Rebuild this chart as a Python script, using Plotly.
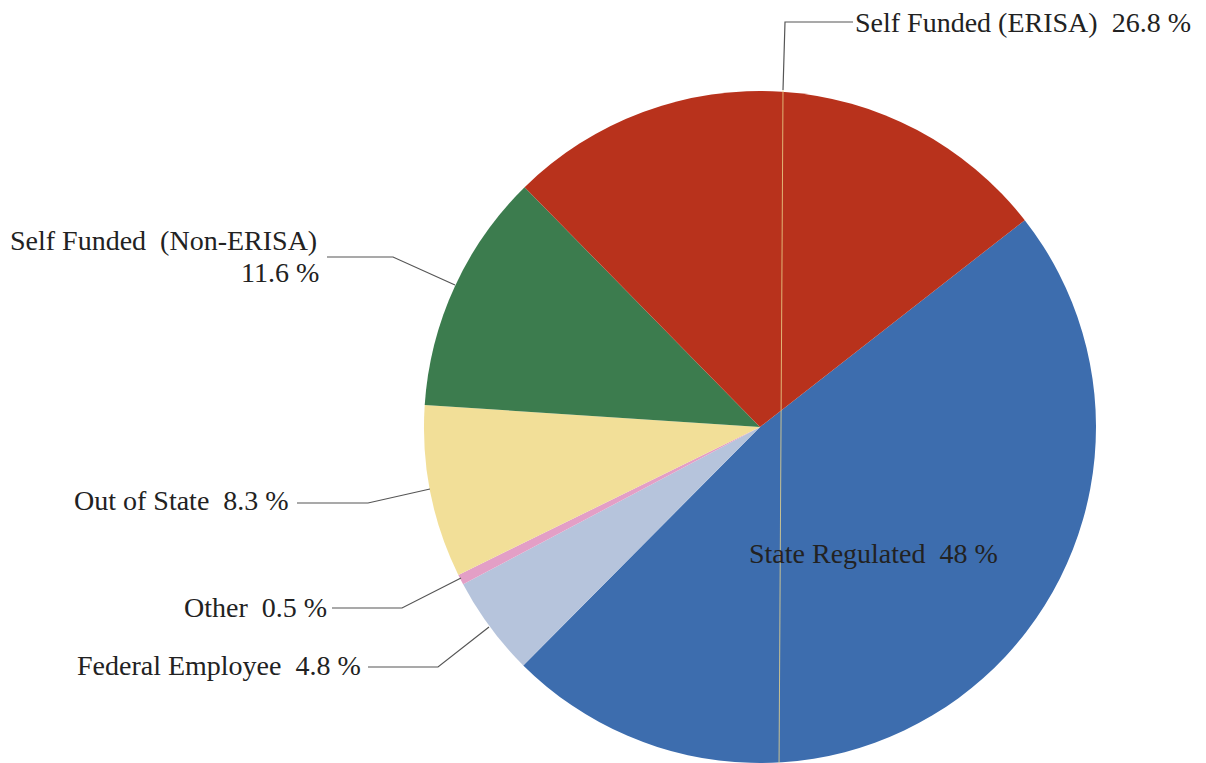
import plotly.graph_objects as go

# Data
categories = ["State Regulated", "Federal Employee", "Other", "Out of State",
              "Self Funded (Non-ERISA)", "Self Funded (ERISA)"]
shares = [48.0, 4.8, 0.5, 8.3, 11.6, 26.8]
colors = ["#3D6DAE", "#B6C4DC", "#E39FC6", "#F2DF98", "#3C7C4E", "#B8321C"]

W, H = 1206, 763
OFF = 8  # page body margin
CX, CY, R = 760, 427, 336


def px(x):
    return (x - OFF) / W


def py(y):
    return 1 - (y - OFF) / H


fig = go.Figure()
fig.add_trace(go.Pie(
    labels=categories,
    values=shares,
    sort=False,
    direction="clockwise",
    rotation=52,
    marker=dict(colors=colors, line=dict(width=0)),
    textinfo="none",
    hoverinfo="label+percent",
    showlegend=False,
    domain=dict(x=[px(CX - R), px(CX + R)], y=[max(0, py(CY + R)), py(CY - R)]),
))

FONT = dict(family="Liberation Serif, Times New Roman, serif", size=28, color="#222222")
NB = "\u00a0"

annotations = [
    dict(text=f"Self Funded (ERISA){NB}{NB}26.8 %", x=853, y=22, xanchor="left"),
    dict(text=f"Self Funded{NB}{NB}(Non-ERISA)", x=8, y=240, xanchor="left"),
    dict(text="11.6 %", x=321, y=272, xanchor="right"),
    dict(text=f"Out of State{NB}{NB}8.3 %", x=291, y=500, xanchor="right"),
    dict(text=f"Other{NB}{NB}0.5 %", x=329, y=607, xanchor="right"),
    dict(text=f"Federal Employee{NB}{NB}4.8 %", x=363, y=665, xanchor="right"),
    dict(text=f"State Regulated{NB}{NB}48 %", x=747, y=553, xanchor="left"),
]
for a in annotations:
    fig.add_annotation(text=a["text"], x=px(a["x"]), y=py(a["y"]), xref="paper", yref="paper",
                       xanchor=a["xanchor"], yanchor="middle", showarrow=False, font=FONT)

# Leader lines (pixel paths)
leaders = [
    [(853, 22), (785, 22), (783, 90)],
    [(327, 257), (393, 257), (455, 285)],
    [(297, 503), (368, 503), (430, 489)],
    [(332, 608), (402, 608), (461, 578)],
    [(368, 667), (438, 667), (489, 627)],
]
shapes = []
for pts in leaders:
    path = "M " + " L ".join(f"{px(x)},{py(y)}" for x, y in pts)
    shapes.append(dict(type="path", path=path, xref="paper", yref="paper",
                       line=dict(color="#555555", width=1.2), layer="above"))
# faint scan line continuing through the pie
shapes.append(dict(type="line", x0=px(783), y0=py(90), x1=px(779), y1=py(771),
                   xref="paper", yref="paper",
                   line=dict(color="rgba(235,215,140,0.8)", width=1), layer="above"))

fig.update_layout(
    width=W, height=H,
    margin=dict(l=0, r=0, t=0, b=0),
    paper_bgcolor="white",
    plot_bgcolor="white",
    shapes=shapes,
)

fig.write_html("out.html")
